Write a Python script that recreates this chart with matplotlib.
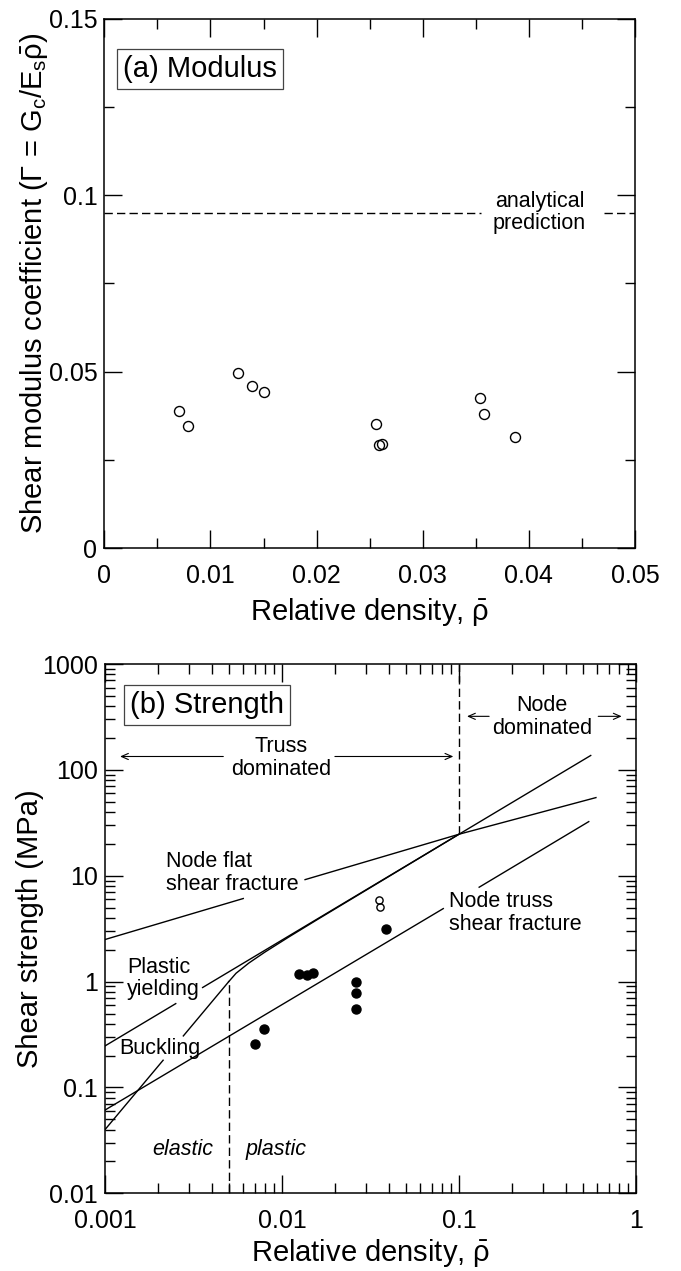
import matplotlib
matplotlib.use('Agg')
import matplotlib.pyplot as plt
import numpy as np
from matplotlib.ticker import MultipleLocator, FuncFormatter, NullFormatter

plt.rcParams['font.family'] = ['Liberation Sans', 'DejaVu Sans']
plt.rcParams['mathtext.fontset'] = 'custom'
plt.rcParams['mathtext.rm'] = 'Liberation Sans'
plt.rcParams['mathtext.it'] = 'Liberation Sans:italic'
plt.rcParams['mathtext.bf'] = 'Liberation Sans:bold'

# (a) modulus data
mod_x = [0.00707, 0.00791, 0.0126, 0.0139, 0.0150, 0.0256, 0.0259, 0.0262, 0.0354, 0.0358, 0.0387]
mod_y = [0.0389, 0.0347, 0.0497, 0.0459, 0.0443, 0.0353, 0.0293, 0.0296, 0.0425, 0.0379, 0.0316]
pred_x = [[0.0, 0.0355], [0.0471, 0.05]]
pred_y = 0.095

# (b) strength data
str_x_filled = [0.00706, 0.00791, 0.01253, 0.0138, 0.0150, 0.0261, 0.0261, 0.0261, 0.0387]
str_y_filled = [0.255, 0.354, 1.17, 1.15, 1.21, 1.0, 0.78, 0.55, 3.11]
str_x_open = [0.0354, 0.0356]
str_y_open = [5.9, 5.1]

# model lines (segments, broken around their labels)
flat_x = [[0.001, 0.00604], [0.0135, 0.1, 0.594]]
flat_y = [[2.5, 6.1], [9.2, 24.7, 54.8]]
yield_x = [[0.001, 0.00251], [0.00356, 0.555]]
yield_y = [[0.247, 0.62], [0.88, 137]]
buck_x = [[0.001, 0.00213], [0.00277, 0.005], [0.005, 0.0055, 0.0065, 0.008, 0.011, 0.016, 0.1]]
buck_y = [[0.04, 0.181], [0.307, 1.0], [1.0, 1.2, 1.5, 1.9, 2.66, 3.9, 24.7]]
truss_x = [[0.001, 0.0815], [0.130, 0.541]]
truss_y = [[0.0612, 4.9], [7.8, 32.5]]
node_bound_x = 0.1
node_bound_y = [24.7, 1000]
elastic_bound_x = 0.005
elastic_bound_y = [0.01, 1.0]

fig = plt.figure(figsize=(6.81, 12.71), dpi=100)
dash = (0, (6, 3))
lw = 1.0
tick_fs = 18
lab_fs = 21
ann_fs = 15.5

# ---------------- (a) Modulus ----------------
ax1 = fig.add_axes([0.1532, 0.5686, 0.7793, 0.4167])
ax1.plot(mod_x, mod_y, 'o', mfc='none', mec='black', ms=7.2, mew=1.0, clip_on=False)
for xs in pred_x:
    ax1.plot(xs, [pred_y, pred_y], color='black', lw=lw, ls=dash)
ax1.text(0.041, pred_y, 'analytical\nprediction', ha='center', va='center', fontsize=ann_fs,
         linespacing=1.05)
ax1.set_xlim(0, 0.05)
ax1.set_ylim(0, 0.15)
ax1.xaxis.set_major_locator(MultipleLocator(0.01))
ax1.xaxis.set_minor_locator(MultipleLocator(0.005))
ax1.yaxis.set_major_locator(MultipleLocator(0.05))
ax1.yaxis.set_minor_locator(MultipleLocator(0.025))
fmt = FuncFormatter(lambda v, p: '%g' % round(v, 6))
ax1.xaxis.set_major_formatter(fmt)
ax1.yaxis.set_major_formatter(fmt)
ax1.set_xlabel(r'Relative density, $\bar{\mathrm{\rho}}$', fontsize=lab_fs, labelpad=6)
ax1.set_ylabel(r'Shear modulus coefficient ($\Gamma$ = G$_\mathrm{c}$/E$_\mathrm{s}\bar{\mathrm{\rho}}$)',
               fontsize=lab_fs, labelpad=-1)
ax1.text(0.035, 0.905, '(a) Modulus', transform=ax1.transAxes, fontsize=lab_fs, ha='left', va='center',
         bbox=dict(boxstyle='square,pad=0.2', fc='white', ec='#444444', lw=0.9))

# ---------------- (b) Strength ----------------
ax2 = fig.add_axes([0.1542, 0.0611, 0.7797, 0.4164])
ax2.set_xscale('log')
ax2.set_yscale('log')
for xs, ys in zip(flat_x, flat_y):
    ax2.plot(xs, ys, color='black', lw=lw)
for xs, ys in zip(yield_x, yield_y):
    ax2.plot(xs, ys, color='black', lw=lw)
for xs, ys in zip(buck_x, buck_y):
    ax2.plot(xs, ys, color='black', lw=lw)
for xs, ys in zip(truss_x, truss_y):
    ax2.plot(xs, ys, color='black', lw=lw)
ax2.plot([node_bound_x, node_bound_x], node_bound_y, color='black', lw=lw, ls=dash)
ax2.plot([elastic_bound_x, elastic_bound_x], elastic_bound_y, color='black', lw=lw, ls=dash)

ax2.plot(str_x_filled, str_y_filled, 'o', color='black', ms=6.5)
ax2.plot(str_x_open, str_y_open, 'o', mfc='none', mec='black', ms=5.2, mew=1.0)

arrow = dict(arrowstyle='->,head_length=0.5,head_width=0.22', lw=0.8, color='black',
             shrinkA=0, shrinkB=0)
ax2.annotate('', xy=(0.001216, 134), xytext=(0.00466, 134), arrowprops=arrow)
ax2.annotate('', xy=(0.0929, 134), xytext=(0.0199, 134), arrowprops=arrow)
ax2.text(0.00984, 130, 'Truss\ndominated', ha='center', va='center', fontsize=ann_fs, linespacing=1.15)
ax2.annotate('', xy=(0.111, 321), xytext=(0.148, 321), arrowprops=arrow)
ax2.annotate('', xy=(0.83, 321), xytext=(0.612, 321), arrowprops=arrow)
ax2.text(0.294, 315, 'Node\ndominated', ha='center', va='center', fontsize=ann_fs, linespacing=1.15)

ax2.text(0.0022, 10.6, 'Node flat\nshear fracture', ha='left', va='center', fontsize=ann_fs, linespacing=1.1)
ax2.text(0.001327, 1.07, 'Plastic\nyielding', ha='left', va='center', fontsize=ann_fs, linespacing=1.1)
ax2.text(0.001205, 0.234, 'Buckling', ha='left', va='center', fontsize=ann_fs)
ax2.text(0.0880, 4.46, 'Node truss\nshear fracture', ha='left', va='center', fontsize=ann_fs, linespacing=1.1)
ax2.text(0.00409, 0.0262, 'elastic', ha='right', va='center', fontsize=ann_fs, style='italic')
ax2.text(0.00624, 0.0262, 'plastic', ha='left', va='center', fontsize=ann_fs, style='italic')

ax2.set_xlim(0.001, 1)
ax2.set_ylim(0.01, 1000)
ax2.xaxis.set_major_formatter(fmt)
ax2.yaxis.set_major_formatter(fmt)
ax2.xaxis.set_minor_formatter(NullFormatter())
ax2.yaxis.set_minor_formatter(NullFormatter())
ax2.set_xlabel(r'Relative density, $\bar{\mathrm{\rho}}$', fontsize=lab_fs, labelpad=3)
ax2.set_ylabel('Shear strength (MPa)', fontsize=lab_fs, labelpad=-1)
ax2.text(0.047, 0.9225, '(b) Strength', transform=ax2.transAxes, fontsize=lab_fs, ha='left', va='center',
         bbox=dict(boxstyle='square,pad=0.2', fc='white', ec='#444444', lw=0.9))

for ax in (ax1, ax2):
    for s in ax.spines.values():
        s.set_linewidth(1.1)
    ax.tick_params(which='both', direction='in', top=True, right=True, width=1.0,
                   labelsize=tick_fs)
    ax.tick_params(axis='x', which='both', pad=11)
    ax.tick_params(axis='y', which='both', pad=5)
    ax.tick_params(which='major', length=13)
    ax.tick_params(which='minor', length=7)

fig.savefig('out.png', dpi=100)
